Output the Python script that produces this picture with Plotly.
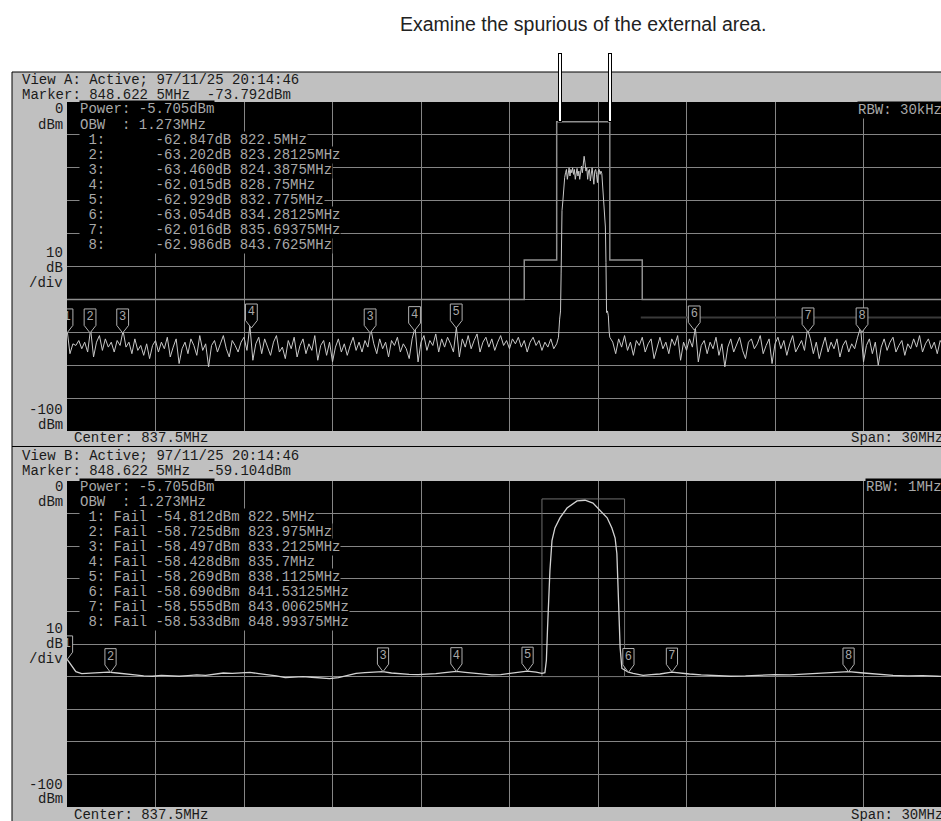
import numpy as np
import plotly.graph_objects as go

W, H = 941, 821

# ---------------- data ----------------
span_start = 822.5
span_stop = 852.5
center = 837.5
px_per_mhz = 29.5

# View A (RBW 30 kHz) trace
noise_step = 0.1
top_noise_left_start = 822.5
top_noise_left = [
    -69.0, -76.5, -73.5, -74.0, -72.5, -75.0, -73.0, -76.0, -69.0, -77.5,
    -73.0, -71.0, -75.5, -72.0, -74.5, -73.0, -76.0, -72.5, -74.0, -69.5,
    -74.5, -73.0, -76.5, -72.0, -75.5, -74.0, -77.0, -73.5, -78.0, -74.0,
    -72.5, -76.0, -73.0, -75.0, -71.5, -77.5, -74.5, -72.0, -79.5, -75.0,
    -73.0, -76.5, -72.0, -74.0, -77.0, -71.0, -75.5, -73.5, -80.5, -74.0,
    -72.5, -76.0, -73.5, -71.0, -75.0, -77.5, -72.5, -74.0, -76.0, -73.0,
    -71.5, -75.5, -68.0, -78.5, -73.5, -71.5, -76.5, -72.0, -74.5, -77.0,
    -73.0, -71.0, -76.0, -74.5, -78.0, -72.5, -75.0, -71.5, -77.5, -74.0,
    -72.0, -76.5, -73.5, -75.5, -71.0, -78.5, -74.0, -72.5, -77.0, -73.0,
    -79.0, -74.5, -72.0, -76.0, -73.5, -77.0, -74.0, -71.5, -75.5, -73.0,
    -76.0, -72.5, -74.5, -69.0, -73.5, -76.5, -72.0, -75.0, -73.0, -77.5,
    -72.5, -74.0, -71.5, -76.0, -73.5, -75.0, -78.0, -72.0, -68.5, -79.0,
    -73.0, -71.0, -75.5, -72.5, -74.0, -70.5, -76.0, -72.0, -74.5, -71.5,
    -73.5, -76.0, -68.5, -77.5, -72.0, -74.5, -71.0, -75.0, -72.5, -70.5,
    -76.0, -73.0, -71.5, -74.5, -72.0, -75.5, -73.0, -71.0, -74.0, -72.5,
    -75.0, -72.0, -73.5, -71.5, -74.5, -72.5, -76.0, -73.0, -71.5, -74.0,
    -72.5, -75.5, -73.0, -74.5, -72.0, -75.0, -73.5,
]
top_signal_freq = [
    839.16, 839.20, 839.23, 839.25, 839.28, 839.31, 839.34, 839.37, 839.40, 839.43,
    839.46, 839.49, 839.52, 839.55, 839.58, 839.61, 839.64, 839.67, 839.70, 839.73,
    839.76, 839.79, 839.82, 839.85, 839.88, 839.91, 839.94, 839.97, 840.00, 840.03,
    840.06, 840.09, 840.12, 840.15, 840.18, 840.21, 840.24, 840.27, 840.30, 840.33,
    840.36, 840.39, 840.42, 840.45, 840.48, 840.51, 840.54, 840.57, 840.60, 840.63,
    840.68, 840.72, 840.75, 840.77, 840.79, 840.82, 840.85, 840.88,
]
top_signal_dbm = [
    -71.5, -66.0, -63.5, -52.0, -33.0, -30.0, -24.5, -23.0, -21.5, -20.5,
    -23.5, -21.0, -20.0, -22.5, -20.5, -21.5, -20.0, -22.0, -20.5, -23.5,
    -21.0, -20.2, -22.5, -21.0, -23.5, -20.5, -19.5, -21.5, -19.0, -16.5,
    -18.5, -21.0, -20.0, -23.5, -21.0, -20.5, -24.0, -21.5, -20.0, -22.5,
    -25.0, -21.0, -20.5, -22.0, -24.5, -21.0, -20.5, -22.0, -21.0, -21.8,
    -28.7, -33.0, -38.0, -48.8, -64.0, -63.5, -65.0, -70.0,
]
top_noise_right_start = 840.9
top_noise_right = [
    -71.5, -73.0, -76.5, -72.0, -74.5, -71.0, -75.5, -73.0, -77.0, -72.5,
    -74.0, -71.5, -76.0, -73.5, -72.0, -78.0, -74.5, -71.5, -75.0, -73.0,
    -76.5, -72.0, -74.0, -71.0, -78.5, -73.0, -75.5, -72.0, -74.5, -68.5,
    -79.0, -74.0, -72.5, -76.5, -73.0, -75.0, -71.5, -77.0, -73.5, -80.5,
    -74.5, -72.0, -76.0, -73.5, -71.5, -75.5, -78.0, -73.0, -72.0, -75.0,
    -73.5, -71.0, -76.5, -74.0, -72.0, -79.5, -73.5, -71.5, -75.0, -72.5,
    -77.0, -73.5, -71.0, -76.0, -74.0, -72.5, -75.5, -69.0, -72.0, -76.5,
    -73.0, -78.0, -74.5, -71.5, -76.0, -73.0, -75.0, -72.0, -77.5, -74.0,
    -72.5, -76.0, -73.5, -75.0, -71.5, -68.5, -79.0, -74.0, -72.0, -76.5,
    -73.0, -80.0, -74.5, -72.0, -75.5, -73.0, -71.5, -76.0, -74.0, -72.5,
    -77.0, -73.5, -75.0, -72.0, -74.5, -71.0, -76.0, -73.5, -72.0, -75.0,
    -73.0, -76.5, -72.5, -74.0, -71.5, -75.0, -73.0,
]
top_mask_freq = [822.5, 838.0, 838.0, 839.1, 839.1, 840.9, 840.9, 842.0, 842.0, 852.5]
top_mask_dbm = [-60, -60, -48, -48, -6, -6, -48, -48, -60, -60]
top_line_freq = [841.95, 852.5]
top_line_dbm = [-65.5, -65.5]
top_flag_freq = [822.5, 823.28125, 824.3875, 828.75, 832.775, 834.28125, 835.69375,
                 843.7625, 847.62, 849.45]
top_flag_label = ["1", "2", "3", "4", "3", "4", "5", "6", "7", "8"]
top_flag_tip = [-70.2, -70.2, -70.2, -68.7, -70.2, -69.5, -68.7, -69.3, -69.9, -69.9]
top_marker_db = [-62.847, -63.202, -63.460, -62.015, -62.929, -63.054, -62.016, -62.986]
top_marker_freq_txt = ["822.5MHz", "823.28125MHz", "824.3875MHz", "828.75MHz",
                       "832.775MHz", "834.28125MHz", "835.69375MHz", "843.7625MHz"]

# View B (RBW 1 MHz) trace
bot_freq = [
    822.5, 822.6, 822.7, 822.8, 823.0, 823.3, 823.6, 823.9, 824.2, 824.5,
    824.8, 825.1, 825.4, 825.7, 826.0, 826.3, 826.6, 826.9, 827.2, 827.5,
    827.8, 828.1, 828.4, 828.7, 829.0, 829.3, 829.6, 829.9, 830.2, 830.5,
    830.8, 831.1, 831.4, 831.7, 832.0, 832.3, 832.6, 832.9, 833.2, 833.5,
    833.8, 834.1, 834.4, 834.7, 835.0, 835.3, 835.7, 836.0, 836.3, 836.6,
    836.9, 837.2, 837.5, 837.8, 838.1, 838.4, 838.6, 838.70, 838.75, 838.79,
    838.81, 838.87, 838.94, 839.04, 839.21, 839.45, 839.79, 840.06, 840.33, 840.57,
    840.81, 840.97, 841.08, 841.14, 841.17, 841.21, 841.25, 841.31, 841.40, 841.53,
    841.69, 842.03, 842.3, 842.6, 843.0, 843.3, 843.6, 844.0, 844.5, 845.0,
    845.5, 846.0, 846.5, 847.0, 847.5, 848.0, 848.5, 849.0, 849.5, 850.0,
    850.5, 851.0, 851.5, 852.0, 852.5,
]
bot_dbm = [
    -54.6, -55.8, -57.2, -58.5, -59.1, -59.0, -58.8, -58.6, -58.9, -59.3,
    -59.5, -59.8, -59.9, -59.6, -59.7, -59.9, -59.7, -59.5, -59.6, -59.2,
    -58.9, -59.0, -58.8, -58.7, -59.1, -59.4, -59.8, -60.3, -60.1, -60.0,
    -60.2, -60.4, -60.6, -60.3, -59.6, -59.0, -58.8, -58.7, -58.5, -58.9,
    -59.2, -59.3, -59.4, -59.3, -59.1, -58.8, -58.4, -58.7, -59.0, -59.3,
    -59.5, -59.4, -59.1, -58.6, -58.3, -58.6, -59.0, -58.8, -55.0, -45.0,
    -38.8, -27.5, -18.3, -14.4, -11.3, -8.3, -6.1, -5.9, -6.8, -9.2,
    -11.3, -14.4, -17.5, -22.3, -30.6, -40.7, -51.1, -57.5, -58.0, -58.6,
    -59.0, -59.6, -59.4, -59.2, -58.6, -58.8, -59.2, -59.5, -59.7, -59.9,
    -59.8, -59.6, -59.4, -59.5, -59.3, -59.0, -58.7, -58.5, -58.9, -59.3,
    -59.6, -59.8, -59.7, -59.9, -60.0,
]
bot_box_freq = [838.6, 841.4]
bot_box_dbm = [-60.0, -5.5]
bot_flag_freq = [822.5, 823.975, 833.2125, 835.7, 838.1125, 841.53125, 843.00625, 848.99375]
bot_flag_label = ["1", "2", "3", "4", "5", "6", "7", "8"]
bot_marker_dbm = [-54.812, -58.725, -58.497, -58.428, -58.269, -58.690, -58.555, -58.533]
bot_marker_freq_txt = ["822.5MHz", "823.975MHz", "833.2125MHz", "835.7MHz",
                       "838.1125MHz", "841.53125MHz", "843.00625MHz", "848.99375MHz"]

# ---------------- figure ----------------
GRID = "#858585"
TRACE = "#c8c8c8"
TXT = "#a8a8a8"
DARK = "#1a1a1a"
MONO = "Liberation Mono"

x_end = span_start + (W - 67) / px_per_mhz

fig = go.Figure()

# top trace
tf = list(np.round(top_noise_left_start + noise_step * np.arange(len(top_noise_left)), 3))
tf += top_signal_freq
tf += list(np.round(top_noise_right_start + noise_step * np.arange(len(top_noise_right)), 3))
tv = top_noise_left + top_signal_dbm + top_noise_right

fig.add_trace(go.Scatter(x=top_mask_freq, y=top_mask_dbm, mode="lines",
                         line=dict(color="#8f8f8f", width=1.5), xaxis="x", yaxis="y"))
fig.add_trace(go.Scatter(x=top_line_freq, y=top_line_dbm, mode="lines",
                         line=dict(color="#3a3a3a", width=2), xaxis="x", yaxis="y"))
fig.add_trace(go.Scatter(x=tf, y=tv, mode="lines", line=dict(color=TRACE, width=1),
                         xaxis="x", yaxis="y"))

# bottom box + trace
bx = [bot_box_freq[0], bot_box_freq[0], bot_box_freq[1], bot_box_freq[1], bot_box_freq[0]]
by = [bot_box_dbm[0], bot_box_dbm[1], bot_box_dbm[1], bot_box_dbm[0], bot_box_dbm[0]]
fig.add_trace(go.Scatter(x=bx, y=by, mode="lines", line=dict(color="#6e6e6e", width=1),
                         xaxis="x2", yaxis="y2"))
fig.add_trace(go.Scatter(x=bot_freq, y=bot_dbm, mode="lines",
                         line=dict(color="#d2d2d2", width=1.3), xaxis="x2", yaxis="y2"))


def add_flags(freqs, labels, tips, xa, ya, hw):
    for f, lab, t in zip(freqs, labels, tips):
        fx = [f - hw, f + hw, f + hw, f, f - hw, f - hw]
        fy = [t + 7.3, t + 7.3, t + 2.3, t, t + 2.3, t + 7.3]
        fig.add_trace(go.Scatter(x=fx, y=fy, mode="lines", fill="toself",
                                 fillcolor="black", line=dict(color="#b0b0b0", width=1),
                                 xaxis=xa, yaxis=ya))
        fig.add_trace(go.Scatter(x=[f], y=[t + 4.8], mode="text", text=[lab],
                                 textfont=dict(family=MONO, size=12, color="#a8a8a8"),
                                 cliponaxis=True, xaxis=xa, yaxis=ya))


add_flags(top_flag_freq, top_flag_label, top_flag_tip, "x", "y", 0.2)
add_flags(bot_flag_freq, bot_flag_label, bot_marker_dbm, "x2", "y2", 0.19)


def ax(domain, anchor, rng, tick0, dtick):
    return dict(domain=domain, anchor=anchor, range=rng, tick0=tick0, dtick=dtick,
                showgrid=True, gridcolor=GRID, gridwidth=1, zeroline=False,
                showline=False, showticklabels=False, ticks="", fixedrange=True)


def py(y):
    return 1 - y / H


def pxx(x):
    return x / W


shapes = [
    dict(type="rect", xref="paper", yref="paper", x0=pxx(12), x1=1.02, y0=-0.02, y1=py(72),
         fillcolor="#c0c0c0", line=dict(color="black", width=1), layer="below"),
    dict(type="rect", xref="paper", yref="paper", x0=pxx(67), x1=1.02, y0=py(431), y1=py(102),
         fillcolor="black", line=dict(width=0), layer="below"),
    dict(type="rect", xref="paper", yref="paper", x0=pxx(67), x1=1.02, y0=py(807), y1=py(481),
         fillcolor="black", line=dict(width=0), layer="below"),
    dict(type="line", xref="paper", yref="paper", x0=pxx(12), x1=1.02, y0=py(446.5), y1=py(446.5),
         line=dict(color="black", width=1), layer="below"),
]
for lx in (560, 610):
    shapes.append(dict(type="line", xref="paper", yref="paper", x0=pxx(lx), x1=pxx(lx),
                       y0=py(122), y1=py(53), line=dict(color="black", width=4), layer="above"))
    shapes.append(dict(type="line", xref="paper", yref="paper", x0=pxx(lx), x1=pxx(lx),
                       y0=py(121), y1=py(54), line=dict(color="white", width=2), layer="above"))

annotations = []


def ann(text, x, y, color, anchor="left", bg=None, size=14, family=MONO):
    annotations.append(dict(
        text=text.replace(" ", "\u00a0"), x=pxx(x), y=py(y), xref="paper", yref="paper",
        xanchor=anchor, yanchor="middle", showarrow=False, borderpad=0,
        bgcolor=bg if bg else "rgba(0,0,0,0)",
        font=dict(family=family, size=size, color=color)))


ann("Examine the spurious of the external area.", 582.5, 24, "#222222", anchor="center",
    size=19.5, family="Liberation Sans")

# View A header/footer
ann("View A: Active; 97/11/25 20:14:46", 21, 80, DARK)
ann("Marker: 848.622 5MHz  -73.792dBm", 21, 95, DARK)
ann(f"Center: {center}MHz", 73, 438.5, DARK)
ann(f"Span: {span_stop - span_start:.0f}MHz", 850, 438.5, DARK)
ann("0", 64, 109, DARK, anchor="right")
ann("dBm", 64, 124.5, DARK, anchor="right")
ann("10", 64, 253, DARK, anchor="right")
ann("dB", 64, 268, DARK, anchor="right")
ann("/div", 64, 283, DARK, anchor="right")
ann("-100", 64, 410, DARK, anchor="right")
ann("dBm", 64, 425, DARK, anchor="right")
ann("Power: -5.705dBm", 79, 109, TXT, bg="black")
ann("OBW  : 1.273MHz", 79, 124.5, TXT, bg="black")
for k, (v, ft) in enumerate(zip(top_marker_db, top_marker_freq_txt)):
    ann(f" {k + 1}:      {v:.3f}dB {ft}", 79, 140 + 15 * k, TXT, bg="black")
ann("RBW: 30kHz", 857, 110, TXT, bg="black")

# View B header/footer
ann("View B: Active; 97/11/25 20:14:46", 21, 455.5, DARK)
ann("Marker: 848.622 5MHz  -59.104dBm", 21, 470.5, DARK)
ann(f"Center: {center}MHz", 73, 814.5, DARK)
ann(f"Span: {span_stop - span_start:.0f}MHz", 850, 814.5, DARK)
ann("0", 64, 487, DARK, anchor="right")
ann("dBm", 64, 502, DARK, anchor="right")
ann("10", 64, 629, DARK, anchor="right")
ann("dB", 64, 644, DARK, anchor="right")
ann("/div", 64, 659, DARK, anchor="right")
ann("-100", 64, 785, DARK, anchor="right")
ann("dBm", 64, 799, DARK, anchor="right")
ann("Power: -5.705dBm", 79, 487, TXT, bg="black")
ann("OBW  : 1.273MHz", 79, 502, TXT, bg="black")
for k, (v, ft) in enumerate(zip(bot_marker_dbm, bot_marker_freq_txt)):
    ann(f" {k + 1}: Fail {v:.3f}dBm {ft}", 79, 517 + 15 * k, TXT, bg="black")
ann("RBW: 1MHz", 865, 487, TXT, bg="black")

fig.update_layout(
    width=W, height=H, margin=dict(l=0, r=0, t=0, b=0),
    paper_bgcolor="white", plot_bgcolor="rgba(0,0,0,0)", showlegend=False,
    xaxis=ax([67 / W, 1], "y", [span_start, x_end], span_start, 3),
    yaxis=ax([py(431), py(102)], "x", [-100, 0], -100, 10),
    xaxis2=ax([67 / W, 1], "y2", [span_start, x_end], span_start, 3),
    yaxis2=ax([py(807), py(481)], "x2", [-100, 0], -100, 10),
    shapes=shapes, annotations=annotations,
)

fig.write_html(
    "out.html",
    config={"displayModeBar": False},
    post_script="document.body.style.margin='0';document.body.style.padding='0';"
                "document.body.style.overflow='hidden';",
)
